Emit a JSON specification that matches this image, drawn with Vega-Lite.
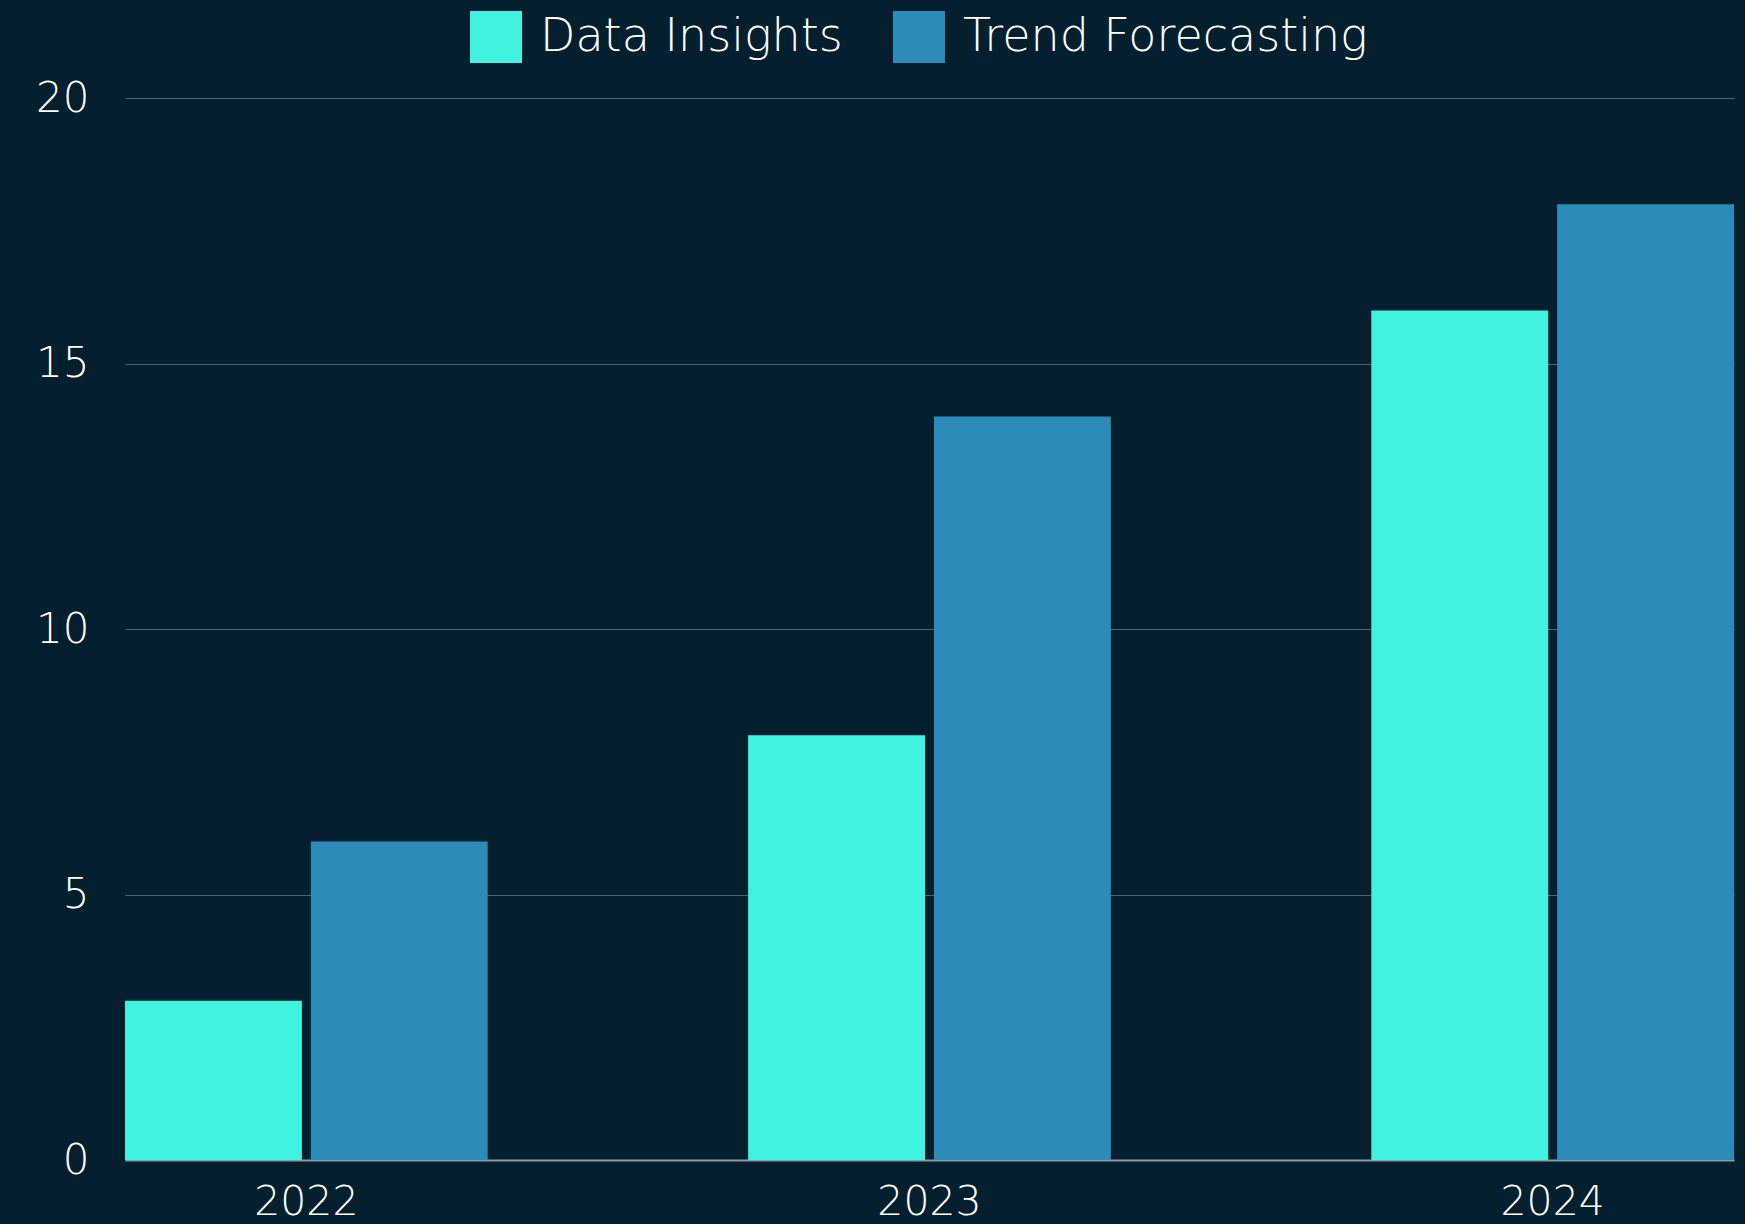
{
  "$schema": "https://vega.github.io/schema/vega-lite/v6.json",
  "width": 1609,
  "height": 1062,
  "autosize": {"type": "none"},
  "padding": {"left": 125, "top": 98, "right": 11, "bottom": 64},
  "background": "#04202f",
  "config": {
    "view": {"stroke": null},
    "font": "DejaVu Sans",
    "axis": {"labelFont": "DejaVu Sans", "labelColor": "#ffffff", "labelFontWeight": 200},
    "legend": {"labelFont": "DejaVu Sans"}
  },
  "data": {
    "values": [
      {"year": "2022", "series": "Data Insights", "value": 3},
      {"year": "2022", "series": "Trend Forecasting", "value": 6},
      {"year": "2023", "series": "Data Insights", "value": 8},
      {"year": "2023", "series": "Trend Forecasting", "value": 14},
      {"year": "2024", "series": "Data Insights", "value": 16},
      {"year": "2024", "series": "Trend Forecasting", "value": 18}
    ]
  },
  "mark": {"type": "bar"},
  "encoding": {
    "x": {
      "field": "year",
      "type": "nominal",
      "scale": {"paddingInner": 0.418, "paddingOuter": 0},
      "axis": {
        "title": null,
        "labelAngle": 0,
        "labelFontSize": 41,
        "ticks": false,
        "domain": true,
        "domainColor": "#8c9ca6",
        "domainWidth": 2,
        "labelPadding": 22,
        "grid": false
      }
    },
    "xOffset": {
      "field": "series",
      "type": "nominal",
      "scale": {"paddingInner": 0.048, "paddingOuter": 0}
    },
    "y": {
      "field": "value",
      "type": "quantitative",
      "scale": {"domain": [0, 20], "nice": false},
      "axis": {
        "title": null,
        "values": [0, 5, 10, 15, 20],
        "labelFontSize": 42,
        "ticks": false,
        "domain": false,
        "grid": true,
        "gridColor": "#4a6675",
        "gridWidth": 1.2,
        "labelPadding": 36
      }
    },
    "color": {
      "field": "series",
      "type": "nominal",
      "scale": {"domain": ["Data Insights", "Trend Forecasting"], "range": ["#40f2e0", "#2d8bba"]},
      "legend": {
        "title": null,
        "orient": "none",
        "direction": "horizontal",
        "legendX": 345,
        "legendY": -87,
        "symbolType": "square",
        "symbolSize": 2704,
        "symbolStrokeWidth": 0,
        "symbolOpacity": 1,
        "labelFontSize": 46,
        "labelFontWeight": 200,
        "labelLimit": 600,
        "labelColor": "#ffffff",
        "labelOffset": 18,
        "columnPadding": 50
      }
    }
  }
}
